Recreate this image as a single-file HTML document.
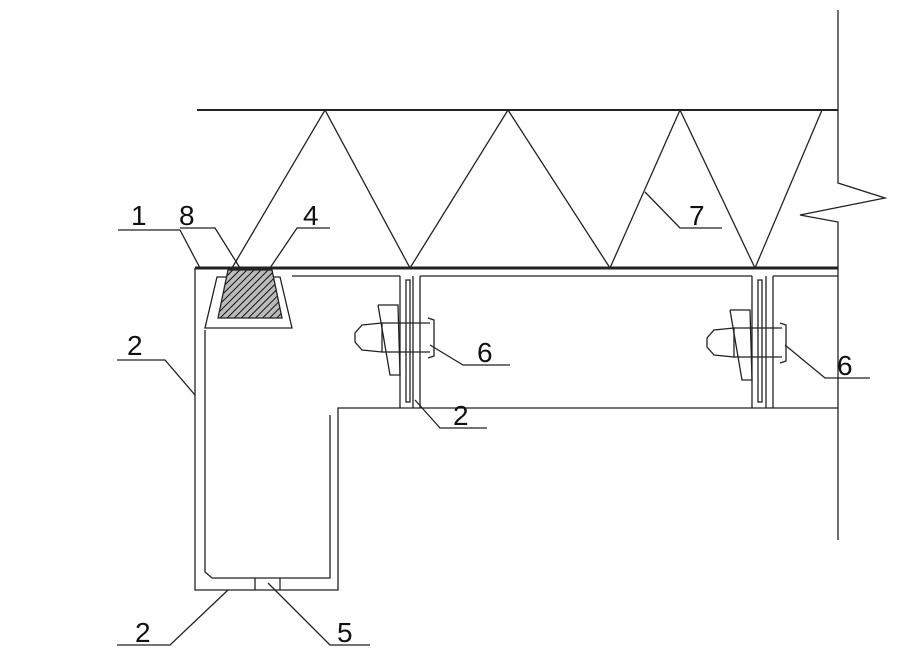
<!DOCTYPE html>
<html><head><style>html,body{margin:0;padding:0;background:#fff}svg{display:block}</style></head><body>
<svg width="920" height="661" viewBox="0 0 920 661" xmlns="http://www.w3.org/2000/svg">
<defs><pattern id="h" patternUnits="userSpaceOnUse" width="5" height="5" patternTransform="rotate(45)"><rect width="5" height="5" fill="#bbb"/><line x1="0" y1="0" x2="0" y2="5" stroke="#111" stroke-width="2"/></pattern></defs>
<g fill="none" stroke="#222" stroke-width="1.3">
<line x1="197" y1="110" x2="838" y2="110" stroke-width="2"/>
<polyline points="838,10 838,183 885,198 800,215 838,222 838,540"/>
<polyline points="232,268 325,110 410,268 508,110 610,268 680,110 755,268 822,110"/>
<line x1="195" y1="268" x2="838" y2="268" stroke-width="3"/>
<polyline points="195,268 195,590 338,590 338,408 838,408"/>
<polyline points="205,330 205,572 212,578 330,578 330,415"/>
<polyline points="292,276 400,276"/><polyline points="420,276 752,276"/><line x1="773" y1="276" x2="838" y2="276"/>
<line x1="400" y1="276" x2="400" y2="408"/><line x1="413" y1="276" x2="413" y2="408"/>
<rect x="406" y="280" width="4" height="122"/><line x1="420" y1="276" x2="420" y2="408"/>
<line x1="752" y1="276" x2="752" y2="408"/><line x1="766" y1="276" x2="766" y2="408"/>
<rect x="758" y="280" width="4" height="122"/><line x1="773" y1="276" x2="773" y2="408"/>
<line x1="255" y1="578" x2="255" y2="590"/><line x1="280" y1="578" x2="280" y2="590"/>
<polygon points="205,328 292,328 280,277 217,277"/>
<polygon points="218,318 282,318 272,270 228,270" fill="url(#h)"/>
<g><polygon points="382,323 362,325 355,333 355,342 362,350 382,352"/><line x1="382" y1="323" x2="430" y2="323"/><line x1="382" y1="352" x2="430" y2="352"/><polyline points="378,305 398,305 400,375 390,375 378,305"/><polyline points="428,318 434,320 434,356 428,358"/></g>
<g transform="translate(352,5)"><polygon points="382,323 362,325 355,333 355,342 362,350 382,352"/><line x1="382" y1="323" x2="430" y2="323"/><line x1="382" y1="352" x2="430" y2="352"/><polyline points="378,305 398,305 400,375 390,375 378,305"/><polyline points="428,318 434,320 434,356 428,358"/></g>
<polyline points="118,230 180,230 200,268"/>
<polyline points="180,228 215,228 240,268"/>
<polyline points="330,228 297,228 270,268"/>
<polyline points="117,360 165,360 195,395"/>
<polyline points="430,345 463,365 510,365"/>
<polyline points="785,345 825,378 870,378"/>
<polyline points="645,192 680,228 722,228"/>
<polyline points="415,400 440,428 487,428"/>
<polyline points="117,645 170,645 228,590"/>
<polyline points="268,583 330,645 370,645"/>
</g>
<g font-family="Liberation Sans, sans-serif" font-size="28" fill="#111">
<text x="131" y="225">1</text><text x="179" y="225">8</text><text x="303" y="225">4</text>
<text x="127" y="355">2</text><text x="477" y="362">6</text><text x="837" y="375">6</text>
<text x="689" y="225">7</text><text x="453" y="425">2</text><text x="135" y="642">2</text><text x="337" y="642">5</text>
</g>
</svg>
</body></html>
